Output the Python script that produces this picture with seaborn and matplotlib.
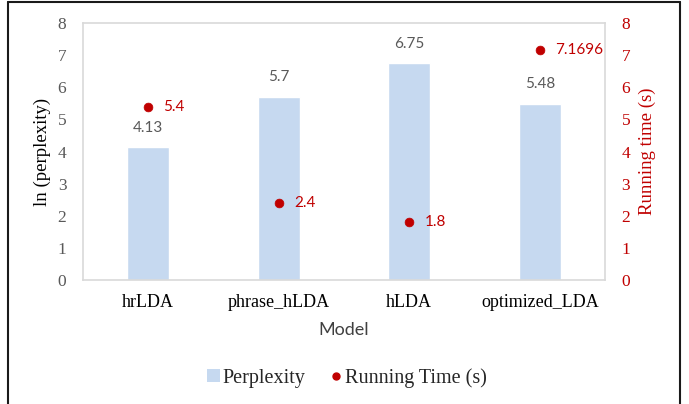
import pandas as pd
import seaborn as sns
import matplotlib.pyplot as plt
from matplotlib.lines import Line2D
from matplotlib.patches import Patch

# chart data
models = ["hrLDA", "phrase_hLDA", "hLDA", "optimized_LDA"]
perplexity = [4.13, 5.7, 6.75, 5.48]
running_time = [5.4, 2.4, 1.8, 7.1696]
perplexity_labels = ["4.13", "5.7", "6.75", "5.48"]
time_labels = ["5.4", "2.4", "1.8", "7.1696"]

df = pd.DataFrame({"Model": models, "Perplexity": perplexity, "Running": running_time})

sns.set_style("white")
plt.rcParams["font.family"] = ["Liberation Serif", "DejaVu Serif"]

bar_color = "#c6d9f0"
red = "#c00000"
gray = "#595959"

fig = plt.figure(figsize=(6.89, 4.04), dpi=100)
ax = fig.add_axes([83 / 689, 1 - 280 / 404, (605 - 83) / 689, (280 - 23) / 404])

sns.barplot(data=df, x="Model", y="Perplexity", color=bar_color, width=0.32,
            saturation=1, ax=ax)
ax.set_ylim(0, 8)
ax.set_yticks(range(0, 9))
ax.tick_params(axis="y", labelsize=12.5, labelcolor=gray, length=0, pad=12)
ax.tick_params(axis="x", labelsize=13, labelcolor="black", length=0, pad=10)
ax.set_ylabel("ln (perplexity)", fontsize=13.5, color="black", labelpad=5)
ax.set_xlabel("Model", fontsize=13, color="#404040", family="Lato", labelpad=8)
for s in ax.spines.values():
    s.set_color("#d9d9d9")
    s.set_linewidth(1.2)

for i, (v, t) in enumerate(zip(perplexity, perplexity_labels)):
    ax.annotate(t, (i, v), xytext=(0, 9), textcoords="offset points",
                ha="center", va="bottom", fontsize=11, color=gray, family="Lato")

ax2 = ax.twinx()
sns.scatterplot(data=df, x="Model", y="Running", color=red, s=40,
                edgecolor=red, ax=ax2, zorder=3)
ax2.set_ylim(0, 8)
ax2.set_yticks(range(0, 9))
ax2.tick_params(axis="y", labelsize=12.5, labelcolor=red, length=0, pad=12)
ax2.set_ylabel("Running time (s)", fontsize=13.5, color=red, labelpad=6)
for s in ax2.spines.values():
    s.set_visible(False)
ax.set_xlim(-0.5, len(models) - 0.5)

for i, (v, t) in enumerate(zip(running_time, time_labels)):
    ax2.annotate(t, (i, v), xytext=(11, 0), textcoords="offset points",
                 ha="left", va="center", fontsize=11, color=red, family="Lato")

handles = [
    Patch(facecolor=bar_color, edgecolor="none", label="Perplexity"),
    Line2D([], [], marker="o", color="none", markerfacecolor=red,
           markeredgecolor=red, markersize=5, label="Running Time (s)"),
]
fig.legend(handles=handles, loc="center", bbox_to_anchor=(347 / 689, 1 - 378 / 404),
           ncol=2, frameon=False, fontsize=14.5, handlelength=0.6, handleheight=0.6,
           handletextpad=0.15, columnspacing=1.2)

# outer frame of the picture
frame_color = "#1a1a1a"
fig.add_artist(Line2D([8 / 689, 8 / 689], [0, 1 - 2 / 404], color=frame_color, lw=1.5))
fig.add_artist(Line2D([680 / 689, 680 / 689], [0, 1 - 2 / 404], color=frame_color, lw=1.5))
fig.add_artist(Line2D([8 / 689, 680 / 689], [1 - 2 / 404, 1 - 2 / 404], color=frame_color, lw=1.5))

plt.savefig("out.png", dpi=100)
